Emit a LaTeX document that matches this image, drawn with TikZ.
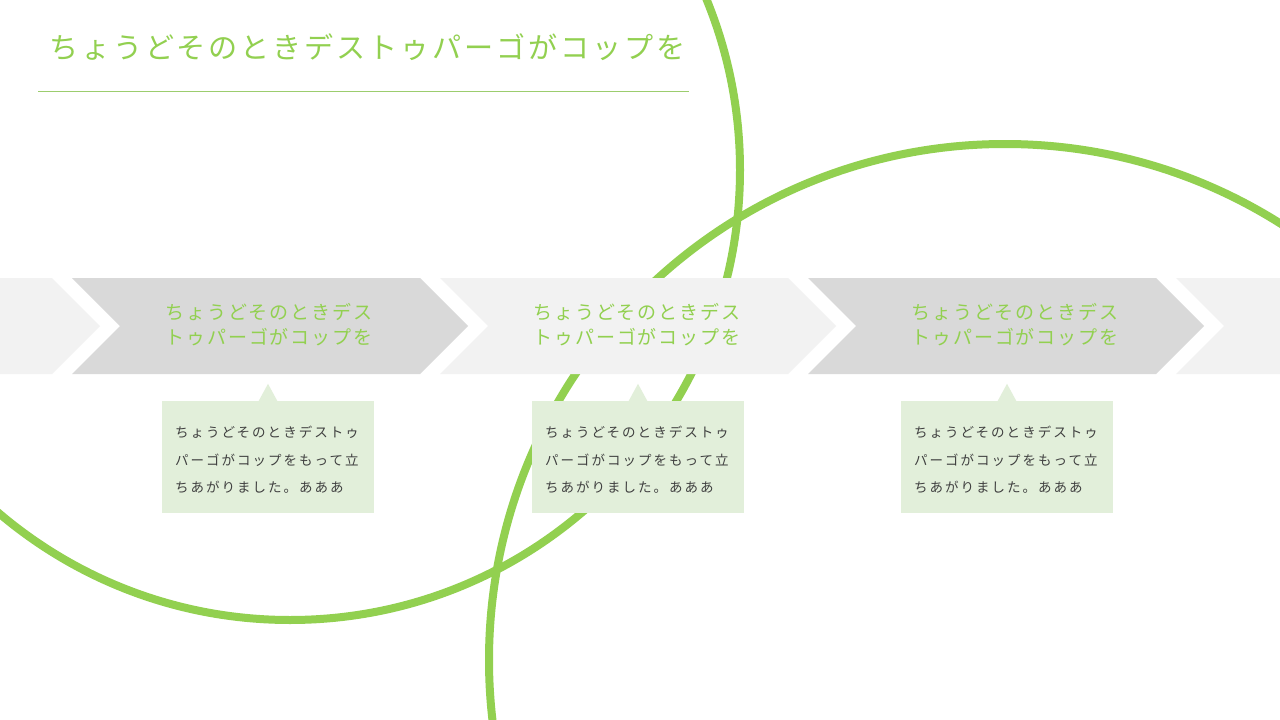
\documentclass[tikz,border=0pt]{standalone}
\usepackage{fontspec}
\newfontfamily\jptitle{Noto Sans CJK JP}[LetterSpace=10]
\newfontfamily\jpstep{Noto Sans CJK JP}[LetterSpace=10]
\newfontfamily\jpnote{Noto Sans CJK JP}[LetterSpace=15]
\usepackage{tikz}
\usetikzlibrary{calc}
\definecolor{leaf}{HTML}{92D050}
\definecolor{softleaf}{HTML}{9CCD6E}
\definecolor{paleleaf}{HTML}{E2EFDA}
\definecolor{lightstep}{HTML}{F2F2F2}
\definecolor{darkstep}{HTML}{D9D9D9}
\definecolor{notetext}{HTML}{404040}

\begin{document}
\begin{tikzpicture}[x=1pt,y=-1pt]
\tikzset{
	ring/.style = {draw=leaf, line width=8pt},
	step text/.style = {font=\jpstep\fontsize{19pt}{25pt}\selectfont, text=leaf, align=center, inner sep=0pt},
	note box/.style = {fill=paleleaf, minimum width=212pt, minimum height=112pt, inner sep=0pt},
	note text/.style = {text width=186pt, inner sep=0pt, align=left, font=\jpnote\fontsize{13.5pt}{27.5pt}\selectfont, text=notetext}
}
\clip (0,0) rectangle (1280,720);
\fill[white] (0,0) rectangle (1280,720);
% rings behind everything
\draw[ring] (290,170) circle [radius=450pt];
\draw[ring] (1005,660) circle [radius=516pt];
% title
\node[anchor=west, inner sep=0pt, font=\jptitle\fontsize{29.1pt}{29.1pt}\selectfont, text=leaf] (title) at (49,47) {ちょうどそのときデストゥパーゴがコップを};
\coordinate (rule l) at (38,91.5);
\coordinate (rule r) at (689,91.5);
\draw[softleaf, line width=1pt] (rule l) -- (rule r);
% chevrons
\fill[lightstep] (0,278) -- (52,278) -- (100,326) -- (52,374) -- (0,374) -- cycle;
\fill[darkstep] (72,278) -- (420,278) -- (468,326) -- (420,374) -- (72,374) -- (120,326) -- cycle;
\fill[lightstep] (440,278) -- (788,278) -- (836,326) -- (788,374) -- (440,374) -- (488,326) -- cycle;
\fill[darkstep] (808,278) -- (1156,278) -- (1204,326) -- (1156,374) -- (808,374) -- (856,326) -- cycle;
\fill[lightstep] (1176,278) -- (1280,278) -- (1280,374) -- (1176,374) -- (1224,326) -- cycle;
\node[step text] (step1) at (269,325) {ちょうどそのときデス\\トゥパーゴがコップを};
\node[step text] (step2) at (637,325) {ちょうどそのときデス\\トゥパーゴがコップを};
\node[step text] (step3) at (1015,325) {ちょうどそのときデス\\トゥパーゴがコップを};
% notes
\node[note box] (note1) at (268,457) {};
\node[note box] (note2) at (638,457) {};
\node[note box] (note3) at (1007,457) {};
\fill[paleleaf] ($(note1.north)+(-9.5,0.5)$) -- ($(note1.north)+(0,-17)$) -- ($(note1.north)+(9.5,0.5)$) -- cycle;
\fill[paleleaf] ($(note2.north)+(-9.5,0.5)$) -- ($(note2.north)+(0,-17)$) -- ($(note2.north)+(9.5,0.5)$) -- cycle;
\fill[paleleaf] ($(note3.north)+(-9.5,0.5)$) -- ($(note3.north)+(0,-17)$) -- ($(note3.north)+(9.5,0.5)$) -- cycle;
\node[note text] (text1) at ($(note1.center)+(0,3)$) {ちょうどそのときデストゥ\\パーゴがコップをもって立\\ちあがりました。あああ};
\node[note text] (text2) at ($(note2.center)+(0,3)$) {ちょうどそのときデストゥ\\パーゴがコップをもって立\\ちあがりました。あああ};
\node[note text] (text3) at ($(note3.center)+(0,3)$) {ちょうどそのときデストゥ\\パーゴがコップをもって立\\ちあがりました。あああ};
\end{tikzpicture}
\end{document}
